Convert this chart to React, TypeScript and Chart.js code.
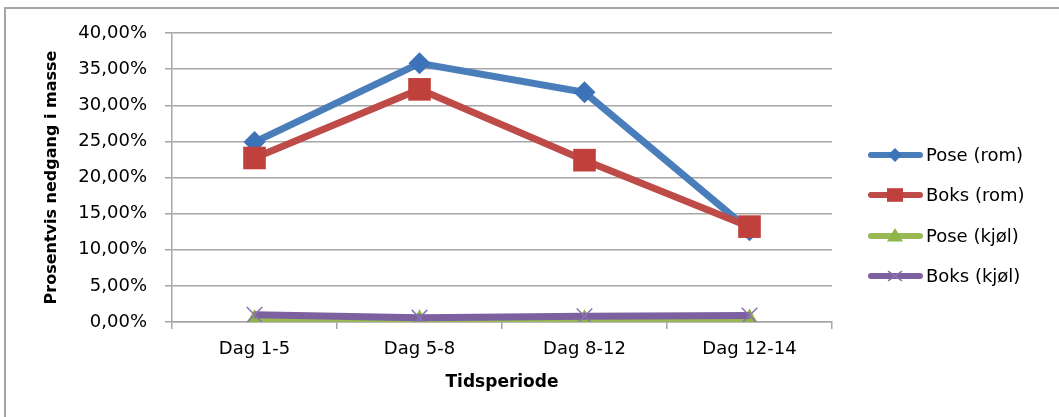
import React, { useEffect, useRef } from "react";
import { Chart, registerables } from "chart.js";

Chart.register(...registerables);

const categories = ["Dag 1-5", "Dag 5-8", "Dag 8-12", "Dag 12-14"];
const seriesNames = ["Pose (rom)", "Boks (rom)", "Pose (kjøl)", "Boks (kjøl)"];
const poseRom = [0.249, 0.358, 0.318, 0.127];
const boksRom = [0.227, 0.322, 0.224, 0.132];
const poseKjol = [0.001, 0.001, 0.001, 0.002];
const boksKjol = [0.01, 0.006, 0.008, 0.009];
const yTicksMax = 0.4;
const yStep = 0.05;

const colors = ["#4A7EBB", "#BE4B48", "#98B954", "#7D60A0"];
const markerColors = ["#3C73B8", "#C0403C", "#8DB547", "#8B73B0"];
const styles = ["rectRot", "rect", "triangle", "crossRot"];
const radii = [11, 16, 12, 11];

const FONT = "'DejaVu Sans', sans-serif";

function drawMarker(ctx: CanvasRenderingContext2D, style: string, x: number, y: number, r: number, fill: string) {
  ctx.save();
  ctx.fillStyle = fill;
  ctx.strokeStyle = fill;
  ctx.beginPath();
  if (style === "rectRot") {
    ctx.moveTo(x, y - r);
    ctx.lineTo(x + r, y);
    ctx.lineTo(x, y + r);
    ctx.lineTo(x - r, y);
    ctx.closePath();
    ctx.fill();
  } else if (style === "rect") {
    ctx.rect(x - r, y - r * 0.85, 2 * r, 1.7 * r);
    ctx.fill();
  } else if (style === "triangle") {
    ctx.moveTo(x, y - r);
    ctx.lineTo(x + r, y + r * 0.7);
    ctx.lineTo(x - r, y + r * 0.7);
    ctx.closePath();
    ctx.fill();
  } else {
    ctx.lineWidth = 1.5;
    ctx.moveTo(x - r, y - r * 0.7);
    ctx.lineTo(x + r, y + r * 0.7);
    ctx.moveTo(x + r, y - r * 0.7);
    ctx.lineTo(x - r, y + r * 0.7);
    ctx.stroke();
  }
  ctx.restore();
}

const decorPlugin = {
  id: "decor",
  beforeDraw(chart: any) {
    const ctx = chart.ctx as CanvasRenderingContext2D;
    ctx.save();
    ctx.fillStyle = "#A6A6A6";
    ctx.fillRect(4, 7, 2, 417 - 7);
    ctx.fillRect(4, 7, 1059 - 4, 2);
    ctx.restore();
  },
  afterDraw(chart: any) {
    const ctx = chart.ctx as CanvasRenderingContext2D;
    const rowY = [155, 195, 236, 276];
    seriesNames.forEach((name, i) => {
      const y = rowY[i];
      ctx.save();
      ctx.strokeStyle = colors[i];
      ctx.lineWidth = 6;
      ctx.lineCap = "round";
      ctx.beginPath();
      ctx.moveTo(871, y);
      ctx.lineTo(920, y);
      ctx.stroke();
      ctx.restore();
      const legendR = [7, 8, 8, 7][i];
      drawMarker(ctx, styles[i], 895, y, legendR, markerColors[i]);
      ctx.save();
      ctx.fillStyle = "#000";
      ctx.font = `18px ${FONT}`;
      ctx.textBaseline = "middle";
      ctx.textAlign = "left";
      ctx.fillText(name, 926, y + 1);
      ctx.restore();
    });
  },
};

export default function App() {
  const ref = useRef<HTMLCanvasElement | null>(null);
  useEffect(() => {
    if (!ref.current) return;
    const all = [poseRom, boksRom, poseKjol, boksKjol];
    const chart = new Chart(ref.current, {
      type: "line",
      data: {
        labels: categories,
        datasets: all.map((d, i) => ({
          label: seriesNames[i],
          data: d,
          borderColor: colors[i],
          backgroundColor: markerColors[i],
          pointBackgroundColor: markerColors[i],
          pointBorderColor: markerColors[i],
          pointBorderWidth: i === 3 ? 1.5 : 0,
          borderWidth: 7,
          pointStyle: styles[i] as any,
          pointRadius: radii[i],
          pointHoverRadius: radii[i],
          tension: 0,
          fill: false,
          order: 3 - i,
        })),
      },
      options: {
        responsive: false,
        animation: false,
        events: [],
        layout: { padding: { left: 0, right: 227, top: 33, bottom: 0 } },
        plugins: {
          legend: { display: false },
          tooltip: { enabled: false },
          title: { display: false },
        },
        scales: {
          x: {
            type: "category",
            offset: true,
            afterFit(scale: any) {
              scale.height = 95;
            },
            grid: {
              offset: true,
              drawOnChartArea: false,
              drawTicks: true,
              tickLength: 7,
              color: "#A6A6A6",
              lineWidth: 1.5,
            },
            border: { display: true, color: "#A6A6A6", width: 1.5 },
            ticks: {
              color: "#000",
              padding: 10,
              font: { family: FONT, size: 18 },
              maxRotation: 0,
            },
            title: {
              display: true,
              text: "Tidsperiode",
              color: "#000",
              font: { family: FONT, size: 17, weight: "bold" },
              padding: { top: 0, bottom: 24 },
            },
          },
          y: {
            min: 0,
            max: yTicksMax,
            afterFit(scale: any) {
              scale.width = 172;
            },
            grid: {
              color: "#A6A6A6",
              lineWidth: 1.5,
              tickLength: 7,
            },
            border: { display: true, color: "#A6A6A6", width: 1.5 },
            ticks: {
              stepSize: yStep,
              color: "#000",
              padding: 18,
              font: { family: FONT, size: 18 },
              callback: (v: any) => (Number(v) * 100).toFixed(2).replace(".", ",") + "%",
            },
            title: {
              display: true,
              text: "Prosentvis nedgang i masse",
              color: "#000",
              font: { family: FONT, size: 16, weight: "bold" },
              padding: { top: 42, bottom: 0 },
            },
          },
        },
      },
      plugins: [decorPlugin],
    });
    return () => chart.destroy();
  }, []);
  return (
    <div style={{ position: "fixed", left: 0, top: 0, width: 1059, height: 417, background: "#fff" }}>
      <canvas ref={ref} width={1059} height={417} style={{ width: 1059, height: 417, display: "block" }} />
    </div>
  );
}
